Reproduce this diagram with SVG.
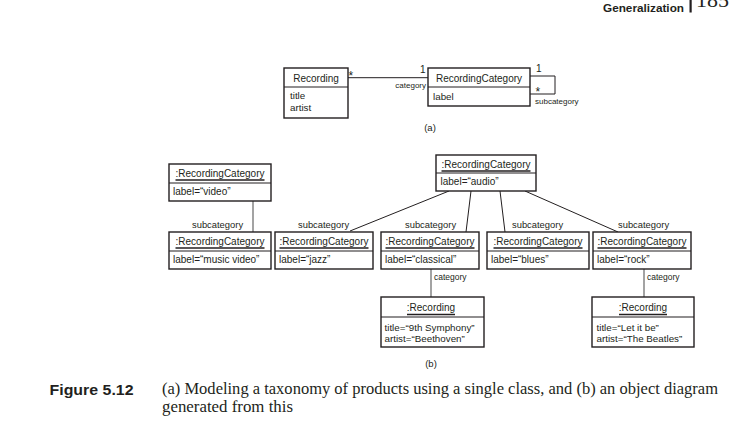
<svg xmlns="http://www.w3.org/2000/svg" width="747" height="445" viewBox="0 0 747 445">
<style>
.bg{fill:#ffffff}
.box{fill:#ffffff;stroke:#231f20;stroke-width:1.4}
.div{stroke:#231f20;stroke-width:1.2}
.t{font-family:"Liberation Sans",Arial,sans-serif;fill:#231f20}
.nm{font-size:10px}
.at{font-size:9.8px}
.ct{text-anchor:middle}
.sm{font-size:8px}
.sub{font-size:9.4px}
.ast{font-size:12px}
.ul{stroke:#231f20;stroke-width:1.4}
.ln{fill:none;stroke:#231f20;stroke-width:1}
.gl{fill:none;stroke:#a3a3a3;stroke-width:2}
.cap{font-family:"Liberation Serif","Times New Roman",serif;fill:#231f20;font-size:16px}
.hd{font-family:"Liberation Sans",Arial,sans-serif;font-weight:bold;fill:#231f20}
</style>
<rect class="bg" x="0" y="0" width="747" height="445"/>

<!-- header -->
<g id="header">
<text class="hd" x="603" y="11.5" font-size="11.8" textLength="81" lengthAdjust="spacingAndGlyphs">Generalization</text>
<rect x="689.5" y="0" width="2.2" height="12.5" fill="#231f20"/>
<text x="696" y="7" font-family="Liberation Serif,serif" font-size="22" fill="#231f20">185</text>
</g>

<!-- connectors -->
<g id="connectors">
<!-- (a) -->
<line class="ln" x1="348" y1="77.7" x2="428" y2="77.7"/>
<path class="ln" d="M530,76 H555 V94 H530"/>
<!-- (b) -->
<line class="gl" x1="253" y1="201" x2="253" y2="232"/>
<line class="ln" x1="449" y1="191" x2="350" y2="231"/>
<line class="ln" x1="471" y1="191" x2="466" y2="232"/>
<line class="ln" x1="500" y1="191" x2="505" y2="232"/>
<line class="ln" x1="525" y1="191" x2="618" y2="232"/>
<line class="gl" x1="431" y1="269" x2="431" y2="297"/>
<line class="gl" x1="644" y1="269" x2="644" y2="297"/>
</g>

<g id="connector-labels">
<text class="t ast" x="348.5" y="80">*</text>
<text class="t nm" x="420" y="73">1</text>
<text class="t sm" x="426" y="87.5" text-anchor="end">category</text>
<text class="t nm" x="536" y="72">1</text>
<text class="t ast" x="535.5" y="96">*</text>
<text class="t sm" x="535" y="104">subcategory</text>
<text class="t sub" x="192" y="227.5">subcategory</text>
<text class="t sub" x="298" y="227.5">subcategory</text>
<text class="t sub" x="405" y="227.5">subcategory</text>
<text class="t sub" x="512" y="227.5">subcategory</text>
<text class="t sub" x="618" y="227.5">subcategory</text>
<text class="t" font-size="8.5" x="434" y="279.5">category</text>
<text class="t" font-size="8.5" x="647" y="279.5">category</text>
</g>

<!-- (a) class diagram -->
<g id="cls-recording">
<rect class="box" x="284" y="68" width="64" height="50"/>
<line class="div" x1="284" y1="87" x2="348" y2="87"/>
<text class="t nm ct" x="316" y="82">Recording</text>
<text class="t at" x="290" y="99">title</text>
<text class="t at" x="290" y="111">artist</text>
</g>
<g id="cls-recordingcategory">
<rect class="box" x="428" y="68" width="102" height="38"/>
<line class="div" x1="428" y1="87" x2="530" y2="87"/>
<text class="t nm ct" x="479" y="82">RecordingCategory</text>
<text class="t at" x="433" y="99.5">label</text>
</g>
<text class="t ct" font-size="9.5" x="430" y="131">(a)</text>

<!-- (b) object diagram -->
<g id="obj-video">
<rect class="box" x="169" y="164" width="102" height="37"/>
<line class="div" x1="169" y1="183" x2="271" y2="183"/>
<text class="t nm ct" x="220" y="177">:RecordingCategory</text>
<line class="ul" x1="175.5" y1="180" x2="264.5" y2="180"/>
<text class="t nm" x="173" y="195">label=“video”</text>
</g>
<g id="obj-audio">
<rect class="box" x="436" y="155" width="100" height="36"/>
<line class="div" x1="436" y1="173" x2="536" y2="173"/>
<text class="t nm ct" x="486" y="168">:RecordingCategory</text>
<line class="ul" x1="441.5" y1="171" x2="530.5" y2="171"/>
<text class="t nm" x="440.5" y="185">label=“audio”</text>
</g>
<g id="obj-musicvideo">
<rect class="box" x="169" y="232" width="102" height="37"/>
<line class="div" x1="169" y1="251" x2="271" y2="251"/>
<text class="t nm ct" x="220" y="245">:RecordingCategory</text>
<line class="ul" x1="175.5" y1="248" x2="264.5" y2="248"/>
<text class="t nm" x="173" y="262.5">label=“music video”</text>
</g>
<g id="obj-jazz">
<rect class="box" x="275" y="232" width="98" height="37"/>
<line class="div" x1="275" y1="251" x2="373" y2="251"/>
<text class="t nm ct" x="324" y="245">:RecordingCategory</text>
<line class="ul" x1="279.5" y1="248" x2="368.5" y2="248"/>
<text class="t nm" x="279" y="262.5">label=“jazz”</text>
</g>
<g id="obj-classical">
<rect class="box" x="381" y="232" width="98" height="37"/>
<line class="div" x1="381" y1="251" x2="479" y2="251"/>
<text class="t nm ct" x="430" y="245">:RecordingCategory</text>
<line class="ul" x1="385.5" y1="248" x2="474.5" y2="248"/>
<text class="t nm" x="385" y="262.5">label=“classical”</text>
</g>
<g id="obj-blues">
<rect class="box" x="487" y="232" width="102" height="37"/>
<line class="div" x1="487" y1="251" x2="589" y2="251"/>
<text class="t nm ct" x="538" y="245">:RecordingCategory</text>
<line class="ul" x1="493.5" y1="248" x2="582.5" y2="248"/>
<text class="t nm" x="491" y="262.5">label=“blues”</text>
</g>
<g id="obj-rock">
<rect class="box" x="593" y="232" width="98" height="37"/>
<line class="div" x1="593" y1="251" x2="691" y2="251"/>
<text class="t nm ct" x="642" y="245">:RecordingCategory</text>
<line class="ul" x1="597.5" y1="248" x2="686.5" y2="248"/>
<text class="t nm" x="597" y="262.5">label=“rock”</text>
</g>
<g id="obj-recording-beethoven">
<rect class="box" x="381" y="297" width="103" height="50"/>
<line class="div" x1="381" y1="317" x2="484" y2="317"/>
<text class="t nm ct" x="431" y="311">:Recording</text>
<line class="ul" x1="407" y1="314.5" x2="455" y2="314.5"/>
<text class="t at" x="384.5" y="330.5">title=“9th Symphony”</text>
<text class="t at" x="384.5" y="341.5">artist=“Beethoven”</text>
</g>
<g id="obj-recording-beatles">
<rect class="box" x="592" y="297" width="102" height="50"/>
<line class="div" x1="592" y1="317" x2="694" y2="317"/>
<text class="t nm ct" x="643" y="311">:Recording</text>
<line class="ul" x1="619" y1="314.5" x2="667" y2="314.5"/>
<text class="t at" x="596.5" y="330.5">title=“Let it be”</text>
<text class="t at" x="596.5" y="341.5">artist=“The Beatles”</text>
</g>
<text class="t ct" font-size="9.5" x="431" y="367">(b)</text>

<!-- caption -->
<g id="caption">
<text class="hd" x="49.5" y="395" font-size="14.5" textLength="84" lengthAdjust="spacingAndGlyphs">Figure 5.12</text>
<text class="cap" x="162" y="394" textLength="556" lengthAdjust="spacingAndGlyphs">(a) Modeling a taxonomy of products using a single class, and (b) an object diagram</text>
<text class="cap" x="162" y="412" textLength="131" lengthAdjust="spacingAndGlyphs">generated from this</text>
</g>
</svg>
